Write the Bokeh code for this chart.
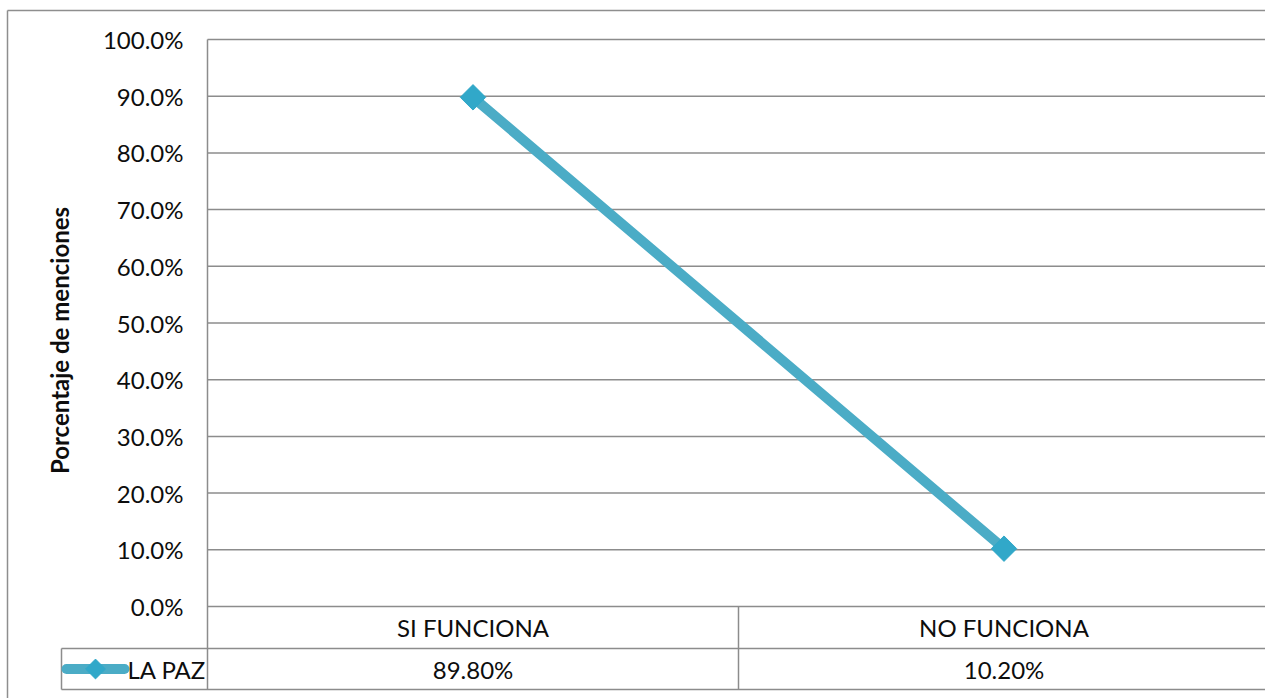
from bokeh.plotting import figure
from bokeh.models import Range1d, ColumnDataSource
from bokeh.core.properties import value
from bokeh.embed import file_html
from bokeh.resources import INLINE
import math

# ---- data ----
categories = ["SI FUNCIONA", "NO FUNCIONA"]
series_name = "LA PAZ"
la_paz = [89.80, 10.20]
y_ticks = [0, 10, 20, 30, 40, 50, 60, 70, 80, 90, 100]
y_title = "Porcentaje de menciones"

# ---- layout (canvas pixels) ----
W, H = 1265, 698
X0, Y0 = 207, 606        # left edge / zero line of the plot area
CAT_PX = 531             # width of one category column
PCT_PX = 5.67            # pixels per percentage point
ROW1_BOTTOM = 648        # bottom of the category row of the data table
ROW2_BOTTOM = 689        # bottom of the values row
KEY_LEFT = 61            # left edge of the legend-key cell
FRAME_LEFT, FRAME_TOP = 7, 10

FONT = "Lato"
TXT = "#0d0d0d"
GRID = "#8c8c8c"
LINE = "#4bacc6"
MARK = "#31a8c9"


def cx(px):
    return (px - X0) / CAT_PX


def cy(py):
    return (Y0 - py) / PCT_PX


p = figure(width=W, height=H, output_backend="svg", toolbar_location=None,
           x_range=Range1d(cx(0), cx(W)), y_range=Range1d(cy(H), cy(0)),
           x_axis_type=None, y_axis_type=None, min_border=0,
           outline_line_color=None, background_fill_color="white",
           border_fill_color="white")
p.grid.visible = False

n = len(categories)

# outer chart frame
p.segment(x0=[cx(FRAME_LEFT), cx(FRAME_LEFT)], y0=[cy(FRAME_TOP), cy(FRAME_TOP)],
          x1=[cx(W + 10), cx(FRAME_LEFT)], y1=[cy(FRAME_TOP), cy(H + 10)],
          line_color="#8e8e8e", line_width=1.5)

# horizontal gridlines
p.segment(x0=[0] * len(y_ticks), y0=y_ticks, x1=[n] * len(y_ticks), y1=y_ticks,
          line_color=GRID, line_width=1.5)

# data table lines
r1, r2 = cy(ROW1_BOTTOM), cy(ROW2_BOTTOM)
p.segment(x0=[cx(KEY_LEFT), cx(KEY_LEFT)], y0=[r1, r2], x1=[n, n], y1=[r1, r2],
          line_color=GRID, line_width=1.5)
vx = [0] + list(range(1, n + 1)) + [cx(KEY_LEFT)]
vy0 = [max(y_ticks)] + [0] * n + [r1]
vy1 = [r2] * (n + 1) + [r2]
p.segment(x0=vx, y0=vy0, x1=vx, y1=vy1, line_color=GRID, line_width=1.5)

# y tick labels
p.text(x=[cx(183)] * len(y_ticks), y=y_ticks,
       text=[f"{t:.1f}%" for t in y_ticks],
       text_font=value(FONT), text_font_size="24px", text_color=TXT,
       text_align="right", text_baseline="middle")

# y axis title
p.text(x=[cx(59)], y=[cy(340)], text=[y_title], angle=math.pi / 2,
       text_font=value(FONT), text_font_size="24px", text_font_style="bold",
       text_color=TXT, text_align="center", text_baseline="middle")

# series line and markers
xs = [i + 0.5 for i in range(n)]
src = ColumnDataSource(dict(x=xs, y=la_paz))
p.line("x", "y", source=src, line_color=LINE, line_width=10, line_cap="round")
p.scatter("x", "y", source=src, marker="square", size=18, angle=math.pi / 4,
          fill_color=MARK, line_color=MARK)

# table text: categories and values
row1_mid = (cy(Y0) + r1) / 2
row2_mid = (r1 + r2) / 2
p.text(x=xs, y=[row1_mid] * n, text=categories,
       text_font=value(FONT), text_font_size="24px", text_color=TXT,
       text_align="center", text_baseline="middle")
p.text(x=xs, y=[row2_mid] * n, text=[f"{v:.2f}%" for v in la_paz],
       text_font=value(FONT), text_font_size="24px", text_color=TXT,
       text_align="center", text_baseline="middle")

# legend key in the table
p.line(x=[cx(66), cx(124)], y=[row2_mid, row2_mid], line_color=LINE,
       line_width=10, line_cap="round")
p.scatter(x=[cx(95)], y=[row2_mid], marker="square", size=14, angle=math.pi / 4,
          fill_color=MARK, line_color=MARK)
p.text(x=[cx(127)], y=[row2_mid], text=[series_name],
       text_font=value(FONT), text_font_size="24px", text_color=TXT,
       text_align="left", text_baseline="middle")

open("out.html", "w").write(file_html(p, INLINE))
